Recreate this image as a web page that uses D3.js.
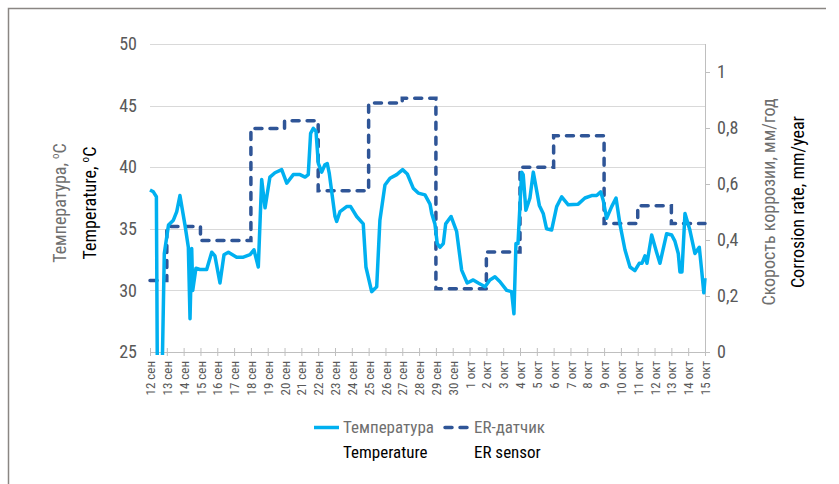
<!DOCTYPE html>
<html>
<head>
<meta charset="utf-8">
<script src="https://cdn.jsdelivr.net/npm/d3@7"></script>
<style>
  body { margin: 0; background: #fff; }
  text { font-family: "Roboto Condensed", "DejaVu Sans Condensed", "Liberation Sans Narrow", "Roboto", sans-serif; font-stretch: condensed; }
</style>
</head>
<body>
<div id="chart"></div>
<script>
// x axis labels, one per day
var dayLabels = ["12 сен","13 сен","14 сен","15 сен","16 сен","17 сен","18 сен","19 сен","20 сен",
  "21 сен","22 сен","23 сен","24 сен","25 сен","26 сен","27 сен","28 сен","29 сен","30 сен",
  "1 окт","2 окт","3 окт","4 окт","5 окт","6 окт","7 окт","8 окт","9 окт","10 окт",
  "11 окт","12 окт","13 окт","14 окт","15 окт"];

// temperature readings: day offset from 12 sep, value in C
var tempDays = [0, 0.2, 0.38, 0.45, 0.68, 0.85, 1.1, 1.39, 1.59, 1.78, 2.08, 2.28, 2.38, 2.48, 2.54, 2.73,
  2.97, 3.37, 3.67, 3.86, 4.16, 4.40, 4.66, 5.15, 5.55, 5.95, 6.18, 6.44, 6.64, 6.84, 7.13, 7.43,
  7.83, 8.13, 8.52, 8.92, 9.22, 9.41, 9.55, 9.71, 9.87, 10.01, 10.21, 10.40, 10.54, 10.66, 11.0,
  11.1, 11.30, 11.69, 11.93, 12.29, 12.68, 12.84, 13.18, 13.48, 13.67, 13.97, 14.27, 14.67, 15.02,
  15.30, 15.65, 15.95, 16.35, 16.65, 16.75, 16.94, 17.08, 17.24, 17.44, 17.58, 17.90, 18.23, 18.53,
  18.86, 19.22, 19.52, 19.92, 20.21, 20.51, 20.81, 21.21, 21.50, 21.64, 21.76, 21.88, 22.10, 22.19,
  22.35, 22.59, 22.79, 23.15, 23.38, 23.58, 23.88, 24.18, 24.48, 24.87, 25.46, 25.86, 26.26, 26.56,
  26.80, 26.95, 27.15, 27.45, 27.71, 27.94, 28.24, 28.54, 28.83, 29.09, 29.25, 29.43, 29.55, 29.83,
  30.12, 30.32, 30.72, 31.02, 31.21, 31.41, 31.51, 31.63, 31.81, 32.10, 32.40, 32.66, 32.80, 32.93, 33.0];
var tempValues = [38.15, 38.0, 37.6, 20, 20, 33.0, 35.3, 35.7, 36.4, 37.7, 35.3, 33.5, 27.7, 33.4, 30.0, 31.8,
  31.7, 31.7, 33.1, 32.8, 30.6, 32.9, 33.1, 32.7, 32.7, 32.9, 33.3, 31.9, 39.0, 36.7, 39.2, 39.55,
  39.8, 38.7, 39.4, 39.4, 39.2, 39.4, 42.75, 43.15, 42.9, 40.3, 39.6, 40.2, 40.3, 39.5, 36.0,
  35.6, 36.4, 36.8, 36.8, 36.0, 35.4, 31.9, 29.9, 30.3, 35.7, 38.55, 39.1, 39.4, 39.8,
  39.45, 38.3, 37.9, 37.75, 37.0, 36.25, 35.4, 33.8, 33.5, 33.8, 35.4, 36.0, 34.8, 31.65,
  30.6, 30.85, 30.6, 30.3, 30.85, 31.1, 30.7, 30.0, 29.9, 28.1, 33.8, 33.8, 39.6, 39.4,
  36.5, 37.5, 39.6, 36.9, 36.25, 35.0, 34.9, 36.8, 37.6, 36.95, 37.0, 37.5, 37.7, 37.7,
  38.0, 37.3, 35.85, 36.8, 37.5, 35.4, 33.3, 31.9, 31.6, 32.2, 32.2, 32.8, 32.2, 34.5,
  33.1, 32.2, 34.6, 34.5, 34.0, 33.0, 31.5, 31.5, 36.25, 34.9, 33.0, 33.5, 31.65, 29.8, 31.0];

// ER sensor corrosion rate, mm/year: step starts (day offset) and levels
var erDays = [0, 1, 3, 6, 8, 10, 13, 15, 17, 20, 22, 24, 27, 29, 31, 33];
var erValues = [0.255, 0.448, 0.398, 0.798, 0.826, 0.576, 0.889, 0.906, 0.226, 0.357, 0.66, 0.772, 0.459, 0.522, 0.459, 0.459];

var tempTicks = [25, 30, 35, 40, 45, 50];
var rateTicks = [0, 0.2, 0.4, 0.6, 0.8, 1];

var svgWidth = 839;
var svgHeight = 484;

var margin = { top: 44, right: 134, bottom: 132, left: 150 };
var width = svgWidth - margin.left - margin.right;
var height = svgHeight - margin.top - margin.bottom;

var svg = d3.select("#chart")
  .append("svg")
  .attr("width", svgWidth)
  .attr("height", svgHeight);

// outer frame (top and left edges only)
svg.append("path")
  .attr("d", "M8.5,484 V8.5 H826")
  .attr("fill", "none")
  .attr("stroke", "#8a8683")
  .attr("stroke-width", 1.5);

var chartGroup = svg.append("g")
  .attr("transform", `translate(${margin.left}, ${margin.top})`);

var xScale = d3.scaleLinear().domain([0, dayLabels.length - 1]).range([0, width]);
var yTemp = d3.scaleLinear().domain([25, 50]).range([height, 0]);
var yRate = d3.scaleLinear().domain([0, 1.1]).range([height, 0]);

// gridlines
chartGroup.append("g")
  .selectAll("line")
  .data(tempTicks.slice(1))
  .enter()
  .append("line")
  .attr("x1", 0)
  .attr("x2", width)
  .attr("y1", d => Math.round(yTemp(d)) + 0.5)
  .attr("y2", d => Math.round(yTemp(d)) + 0.5)
  .attr("stroke", "#d9d9d9")
  .attr("stroke-width", 1);

// left axis labels
var leftAxis = d3.axisLeft(yTemp).tickValues(tempTicks).tickSize(0).tickPadding(13);
var yAxis = chartGroup.append("g").call(leftAxis);
yAxis.select(".domain").remove();
yAxis.selectAll("text")
  .attr("fill", "#595959")
  .style("font-size", "18px");

// right axis
var rightAxis = d3.axisRight(yRate).tickValues(rateTicks).tickSize(5).tickPadding(7)
  .tickFormat(d => d === 0 || d === 1 ? String(d) : d3.format(".1f")(d).replace(".", ","));
var y2Axis = chartGroup.append("g")
  .attr("transform", `translate(${width}, 0)`)
  .call(rightAxis);
y2Axis.select(".domain").attr("stroke", "#bfbfbf").attr("d", `M0.5,0 V${height}`);
y2Axis.selectAll(".tick line").attr("stroke", "#bfbfbf");
y2Axis.selectAll("text")
  .attr("fill", "#595959")
  .style("font-size", "18px");

// bottom axis
var bottomAxis = d3.axisBottom(xScale)
  .tickValues(d3.range(dayLabels.length))
  .tickSize(4)
  .tickFormat(d => dayLabels[d]);
var xAxis = chartGroup.append("g")
  .attr("transform", `translate(0, ${height})`)
  .call(bottomAxis);
xAxis.select(".domain").attr("stroke", "#bfbfbf").attr("d", `M0,0.5 H${width}`);
xAxis.selectAll(".tick line").attr("stroke", "#bfbfbf").attr("y1", -4).attr("y2", 4);
xAxis.selectAll("text")
  .attr("fill", "#595959")
  .style("font-size", "13px")
  .attr("text-anchor", "end")
  .attr("transform", "rotate(-90)")
  .attr("x", -9)
  .attr("y", 0)
  .attr("dy", "0.35em");

// clip for the temperature line
chartGroup.append("clipPath")
  .attr("id", "plotClip")
  .append("rect")
  .attr("x", -5)
  .attr("y", -5)
  .attr("width", width + 10)
  .attr("height", height + 8);

// ER sensor step line
var erLine = d3.line()
  .x((d, i) => xScale(erDays[i]))
  .y(d => yRate(d))
  .curve(d3.curveStepAfter);

chartGroup.append("path")
  .datum(erValues)
  .attr("d", erLine)
  .attr("fill", "none")
  .attr("stroke", "#2f5597")
  .attr("stroke-width", 3.5)
  .attr("stroke-dasharray", "7,8")
  .attr("stroke-linecap", "round");

// temperature line
var tempLine = d3.line()
  .x((d, i) => xScale(tempDays[i]))
  .y(d => yTemp(d));

chartGroup.append("path")
  .datum(tempValues)
  .attr("clip-path", "url(#plotClip)")
  .attr("d", tempLine)
  .attr("fill", "none")
  .attr("stroke", "#00b0f0")
  .attr("stroke-width", 3.5)
  .attr("stroke-linejoin", "round");

// axis titles
var leftTitle = svg.append("text")
  .attr("transform", "translate(66, 203) rotate(-90)")
  .attr("text-anchor", "middle")
  .attr("fill", "#6f6f6f")
  .style("font-size", "18px");
leftTitle.append("tspan").text("Температура, ");
leftTitle.append("tspan").attr("dy", -7).style("font-size", "11px").text("o");
leftTitle.append("tspan").attr("dy", 7).text("С");

var leftTitle2 = svg.append("text")
  .attr("transform", "translate(96, 203) rotate(-90)")
  .attr("text-anchor", "middle")
  .attr("fill", "#000")
  .style("font-size", "18px");
leftTitle2.append("tspan").text("Temperature, ");
leftTitle2.append("tspan").attr("dy", -7).style("font-size", "11px").text("o");
leftTitle2.append("tspan").attr("dy", 7).text("C");

svg.append("text")
  .attr("transform", "translate(775, 202) rotate(-90)")
  .attr("text-anchor", "middle")
  .attr("fill", "#6f6f6f")
  .style("font-size", "18px")
  .text("Скорость коррозии, мм/год");

svg.append("text")
  .attr("transform", "translate(804, 202) rotate(-90)")
  .attr("text-anchor", "middle")
  .attr("fill", "#000")
  .style("font-size", "18px")
  .text("Corrosion rate, mm/year");

// legend
var legend = svg.append("g");
legend.append("line")
  .attr("x1", 314).attr("x2", 339).attr("y1", 427.5).attr("y2", 427.5)
  .attr("stroke", "#00b0f0").attr("stroke-width", 3.5);
legend.append("text").attr("x", 343).attr("y", 433)
  .attr("fill", "#6f6f6f").style("font-size", "17px").text("Температура");
legend.append("text").attr("x", 343).attr("y", 458)
  .attr("fill", "#000").style("font-size", "17px").text("Temperature");

legend.append("line")
  .attr("x1", 445).attr("x2", 470).attr("y1", 427.5).attr("y2", 427.5)
  .attr("stroke", "#2f5597").attr("stroke-width", 3.5)
  .attr("stroke-dasharray", "7,8").attr("stroke-linecap", "round");
legend.append("text").attr("x", 474).attr("y", 433)
  .attr("fill", "#6f6f6f").style("font-size", "17px").text("ER-датчик");
legend.append("text").attr("x", 474).attr("y", 458)
  .attr("fill", "#000").style("font-size", "17px").text("ER sensor");
</script>
</body>
</html>
